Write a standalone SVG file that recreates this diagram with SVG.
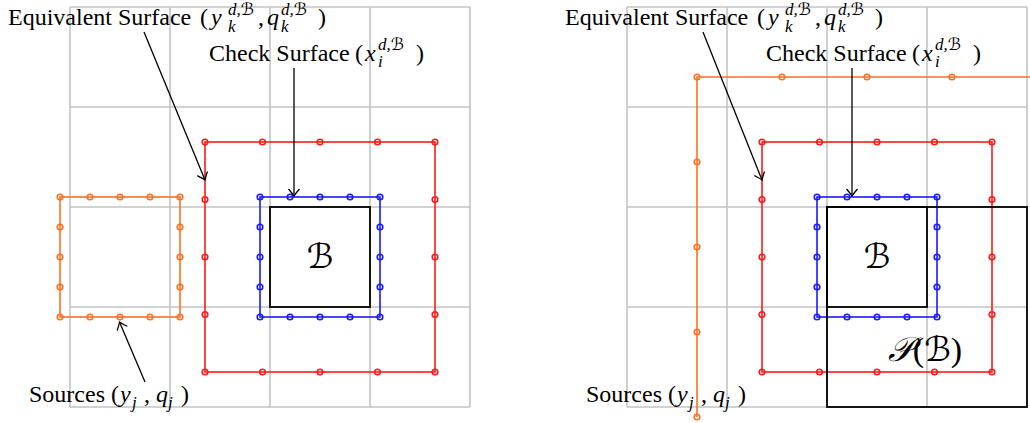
<svg xmlns="http://www.w3.org/2000/svg" width="1030" height="423" viewBox="0 0 1030 423">
<defs>
<style>
.grid{stroke:#c4c4c4;stroke-width:1.6;fill:none}
.red{stroke:#ff1a1a;stroke-width:1.6;fill:none}
.blue{stroke:#1a1aff;stroke-width:1.6;fill:none}
.orange{stroke:#ff7020;stroke-width:1.6;fill:none}
.box{stroke:#000;stroke-width:1.8;fill:none}
.arrow{stroke:#000;stroke-width:1.3;fill:none;marker-end:url(#to)}
text{font-family:"Liberation Serif","DejaVu Serif",serif;font-size:24px;fill:#000}
.it{font-style:italic}
.s{font-size:17px;font-style:italic}
.cal{font-family:"DejaVu Serif","DejaVu Sans","Noto Sans",serif;font-style:italic}
.big{font-size:34px}
</style>
<marker id="to" markerUnits="userSpaceOnUse" markerWidth="14" markerHeight="14" viewBox="-8 -7 10 14" refX="0" refY="0" orient="auto">
<path d="M-7,-5.5 Q-2,-1.2 0,0 Q-2,1.2 -7,5.5" stroke="#000" stroke-width="1.3" fill="none"/>
</marker>
</defs>

<g id="grid-left" class="grid">
<path d="M70,7V407M170,7V407M270,7V407M370,7V407M470,7V407M70,7H470M70,107H470M70,207H470M70,307H470M70,407H470"/>
</g>
<g id="grid-right" class="grid">
<path d="M627,7V407M727,7V407M827,7V407M927,7V407M1027,7V407M627,7H1027M627,107H1027M627,207H1027M627,307H1027M627,407H1027"/>
</g>

<g id="sources-left" class="orange">
<rect x="60" y="197" width="120" height="120"/>
<circle cx="60" cy="197" r="2.8"/><circle cx="90" cy="197" r="2.8"/><circle cx="120" cy="197" r="2.8"/><circle cx="150" cy="197" r="2.8"/><circle cx="180" cy="197" r="2.8"/>
<circle cx="60" cy="317" r="2.8"/><circle cx="90" cy="317" r="2.8"/><circle cx="120" cy="317" r="2.8"/><circle cx="150" cy="317" r="2.8"/><circle cx="180" cy="317" r="2.8"/>
<circle cx="60" cy="227" r="2.8"/><circle cx="60" cy="257" r="2.8"/><circle cx="60" cy="287" r="2.8"/>
<circle cx="180" cy="227" r="2.8"/><circle cx="180" cy="257" r="2.8"/><circle cx="180" cy="287" r="2.8"/>
</g>

<g id="equivalent-left" class="red">
<rect x="205" y="142" width="230" height="230"/>
<circle cx="205" cy="142" r="2.8"/><circle cx="262.5" cy="142" r="2.8"/><circle cx="320" cy="142" r="2.8"/><circle cx="377.5" cy="142" r="2.8"/><circle cx="435" cy="142" r="2.8"/>
<circle cx="205" cy="372" r="2.8"/><circle cx="262.5" cy="372" r="2.8"/><circle cx="320" cy="372" r="2.8"/><circle cx="377.5" cy="372" r="2.8"/><circle cx="435" cy="372" r="2.8"/>
<circle cx="205" cy="199.5" r="2.8"/><circle cx="205" cy="257" r="2.8"/><circle cx="205" cy="314.5" r="2.8"/>
<circle cx="435" cy="199.5" r="2.8"/><circle cx="435" cy="257" r="2.8"/><circle cx="435" cy="314.5" r="2.8"/>
</g>

<g id="check-left" class="blue">
<rect x="260" y="197" width="120" height="120"/>
<circle cx="260" cy="197" r="2.8"/><circle cx="290" cy="197" r="2.8"/><circle cx="320" cy="197" r="2.8"/><circle cx="350" cy="197" r="2.8"/><circle cx="380" cy="197" r="2.8"/>
<circle cx="260" cy="317" r="2.8"/><circle cx="290" cy="317" r="2.8"/><circle cx="320" cy="317" r="2.8"/><circle cx="350" cy="317" r="2.8"/><circle cx="380" cy="317" r="2.8"/>
<circle cx="260" cy="227" r="2.8"/><circle cx="260" cy="257" r="2.8"/><circle cx="260" cy="287" r="2.8"/>
<circle cx="380" cy="227" r="2.8"/><circle cx="380" cy="257" r="2.8"/><circle cx="380" cy="287" r="2.8"/>
</g>

<g id="box-B-left">
<rect class="box" x="270" y="207" width="100" height="100"/>
<text class="cal big" x="320" y="268" text-anchor="middle">ℬ</text>
</g>

<g id="sources-right" class="orange">
<path d="M697,417V77H1032"/>
<circle cx="697" cy="77" r="2.8"/><circle cx="782" cy="77" r="2.8"/><circle cx="867" cy="77" r="2.8"/><circle cx="952" cy="77" r="2.8"/>
<circle cx="697" cy="162" r="2.8"/><circle cx="697" cy="247" r="2.8"/><circle cx="697" cy="332" r="2.8"/><circle cx="697" cy="417" r="2.8"/>
</g>

<g id="equivalent-right" class="red">
<rect x="762" y="142" width="230" height="230"/>
<circle cx="762" cy="142" r="2.8"/><circle cx="819.5" cy="142" r="2.8"/><circle cx="877" cy="142" r="2.8"/><circle cx="934.5" cy="142" r="2.8"/><circle cx="992" cy="142" r="2.8"/>
<circle cx="762" cy="372" r="2.8"/><circle cx="819.5" cy="372" r="2.8"/><circle cx="877" cy="372" r="2.8"/><circle cx="934.5" cy="372" r="2.8"/><circle cx="992" cy="372" r="2.8"/>
<circle cx="762" cy="199.5" r="2.8"/><circle cx="762" cy="257" r="2.8"/><circle cx="762" cy="314.5" r="2.8"/>
<circle cx="992" cy="199.5" r="2.8"/><circle cx="992" cy="257" r="2.8"/><circle cx="992" cy="314.5" r="2.8"/>
</g>

<g id="check-right" class="blue">
<rect x="817" y="197" width="120" height="120"/>
<circle cx="817" cy="197" r="2.8"/><circle cx="847" cy="197" r="2.8"/><circle cx="877" cy="197" r="2.8"/><circle cx="907" cy="197" r="2.8"/><circle cx="937" cy="197" r="2.8"/>
<circle cx="817" cy="317" r="2.8"/><circle cx="847" cy="317" r="2.8"/><circle cx="877" cy="317" r="2.8"/><circle cx="907" cy="317" r="2.8"/><circle cx="937" cy="317" r="2.8"/>
<circle cx="817" cy="227" r="2.8"/><circle cx="817" cy="257" r="2.8"/><circle cx="817" cy="287" r="2.8"/>
<circle cx="937" cy="227" r="2.8"/><circle cx="937" cy="257" r="2.8"/><circle cx="937" cy="287" r="2.8"/>
</g>

<g id="box-B-right">
<rect class="box" x="827" y="207" width="100" height="100"/>
<text class="cal big" x="877" y="268" text-anchor="middle">ℬ</text>
</g>

<g id="box-PB-right">
<rect class="box" x="827" y="207" width="200" height="200"/>
<text class="big" x="925" y="361" text-anchor="middle"><tspan class="cal">𝒫</tspan>(<tspan class="cal">ℬ</tspan>)</text>
</g>

<g id="label-equivalent-left">
<text x="8" y="25">Equivalent Surface <tspan x="200">(</tspan><tspan class="it" x="211">y</tspan><tspan class="s" x="228" y="15">d,<tspan class="cal">ℬ</tspan></tspan><tspan class="s" x="228" y="32">k</tspan><tspan x="258" y="25">,</tspan><tspan class="it" x="267">q</tspan><tspan class="s" x="281" y="15">d,<tspan class="cal">ℬ</tspan></tspan><tspan class="s" x="281" y="32">k</tspan><tspan x="318" y="25">)</tspan></text>
</g>
<g id="label-check-left">
<text x="209" y="61">Check Surface <tspan x="355">(</tspan><tspan class="it" x="365">x</tspan><tspan class="s" x="378" y="50">d,<tspan class="cal">ℬ</tspan></tspan><tspan class="s" x="378" y="67">i</tspan><tspan x="416" y="61">)</tspan></text>
</g>
<g id="label-sources-left">
<text x="29" y="402">Sources (<tspan class="it" x="120">y</tspan><tspan class="s" x="132" y="408">j</tspan><tspan x="144" y="402">,</tspan><tspan class="it" x="156">q</tspan><tspan class="s" x="168" y="408">j</tspan><tspan x="181" y="402">)</tspan></text>
</g>

<g id="label-equivalent-right">
<text x="565" y="25">Equivalent Surface <tspan x="757">(</tspan><tspan class="it" x="768">y</tspan><tspan class="s" x="785" y="15">d,<tspan class="cal">ℬ</tspan></tspan><tspan class="s" x="785" y="32">k</tspan><tspan x="815" y="25">,</tspan><tspan class="it" x="824">q</tspan><tspan class="s" x="838" y="15">d,<tspan class="cal">ℬ</tspan></tspan><tspan class="s" x="838" y="32">k</tspan><tspan x="875" y="25">)</tspan></text>
</g>
<g id="label-check-right">
<text x="766" y="61">Check Surface <tspan x="912">(</tspan><tspan class="it" x="922">x</tspan><tspan class="s" x="935" y="50">d,<tspan class="cal">ℬ</tspan></tspan><tspan class="s" x="935" y="67">i</tspan><tspan x="973" y="61">)</tspan></text>
</g>
<g id="label-sources-right">
<text x="586" y="402">Sources (<tspan class="it" x="677">y</tspan><tspan class="s" x="689" y="408">j</tspan><tspan x="701" y="402">,</tspan><tspan class="it" x="713">q</tspan><tspan class="s" x="725" y="408">j</tspan><tspan x="738" y="402">)</tspan></text>
</g>

<g id="connectors">
<line class="arrow" x1="144" y1="32" x2="205" y2="180"/>
<line class="arrow" x1="294" y1="68" x2="294" y2="196"/>
<line class="arrow" x1="145" y1="382" x2="119.5" y2="322"/>
<line class="arrow" x1="703" y1="32" x2="762" y2="180"/>
<line class="arrow" x1="852" y1="68" x2="852" y2="196"/>
</g>
</svg>
